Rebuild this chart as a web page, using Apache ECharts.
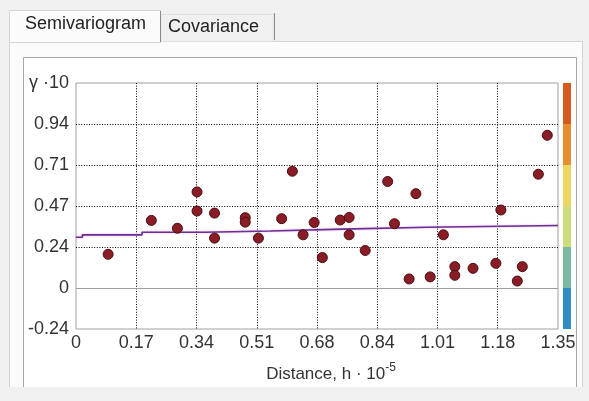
<!DOCTYPE html>
<html>
<head>
<meta charset="utf-8">
<script src="https://cdn.jsdelivr.net/npm/echarts@6/dist/echarts.min.js"></script>
<style>
html,body{margin:0;padding:0;background:#f0f0f0;}
#c{width:589px;height:401px;}
</style>
</head>
<body>
<div id="c"></div>
<script>
// ---- data ----
const xTickLabels = ['0', '0.17', '0.34', '0.51', '0.68', '0.84', '1.01', '1.18', '1.35'];
const yTickLabels = ['-0.24', '0', '0.24', '0.47', '0.71', '0.94', 'γ ·10'];

const pointsX = [0.090, 0.211, 0.284, 0.339, 0.339, 0.388, 0.388, 0.474, 0.474, 0.511,
                 0.576, 0.606, 0.636, 0.667, 0.690, 0.740, 0.765, 0.765, 0.810, 0.873,
                 0.892, 0.933, 0.952, 0.992, 1.029, 1.061, 1.061, 1.112, 1.176, 1.190,
                 1.236, 1.250, 1.295, 1.320];
const pointsY = [0.194, 0.389, 0.344, 0.553, 0.443, 0.431, 0.287, 0.405, 0.379, 0.287,
                 0.399, 0.672, 0.306, 0.377, 0.175, 0.391, 0.406, 0.306, 0.216, 0.613,
                 0.370, 0.052, 0.543, 0.064, 0.306, 0.123, 0.073, 0.113, 0.142, 0.449,
                 0.040, 0.123, 0.655, 0.879];

const modelX = [0, 0.018, 0.185, 0.360, 0.544, 0.746, 0.984, 1.35];
const modelY = [0.292, 0.306, 0.321, 0.328, 0.339, 0.350, 0.360, 0.360];

const colorBarColors = ['#2d8dc4', '#7cb9a3', '#cfdc7c', '#eed760', '#e48e2f', '#d45b1d']; // bottom -> top
const colorBarSegments = [1, 1, 1, 1, 1, 1];

// ---- chart ----
const FONT = 'Liberation Sans, Arial, sans-serif';
const chart = echarts.init(document.getElementById('c'), null, {renderer: 'canvas'});

const points = pointsX.map((x, i) => [x, pointsY[i]]);
const model = modelX.map((x, i) => [x, modelY[i]]);

const barSeries = colorBarSegments.map((v, i) => ({
  type: 'bar',
  xAxisIndex: 1,
  yAxisIndex: 1,
  stack: 'cb',
  barWidth: '100%',
  silent: true,
  itemStyle: {color: colorBarColors[i]},
  data: [v]
}));

const gridDots = {color: '#000', type: [1, 1.6], width: 1};

const option = {
  backgroundColor: '#f0f0f0',
  animation: false,
  graphic: [
    {type: 'rect', z: -20, shape: {x: 9.5, y: 41.5, width: 573, height: 346},
     style: {fill: '#fbfbfb', stroke: '#d4d4d4', lineWidth: 1}},
    {type: 'rect', z: -19, shape: {x: 23.5, y: 57.5, width: 553, height: 340},
     style: {fill: '#ffffff', stroke: '#a8a8a8', lineWidth: 1}},
    {type: 'rect', z: -18, shape: {x: 0, y: 387, width: 589, height: 14},
     style: {fill: '#f0f0f0'}},
    {type: 'rect', z: -17, shape: {x: 9.5, y: 10.5, width: 151, height: 32},
     style: {fill: '#fbfbfb', stroke: '#d4d4d4', lineWidth: 1}},
    {type: 'line', z: -16, shape: {x1: 160.5, y1: 11, x2: 160.5, y2: 42},
     style: {stroke: '#8a8a8a', lineWidth: 1}},
    {type: 'line', z: -16, shape: {x1: 10, y1: 41.5, x2: 160, y2: 41.5},
     style: {stroke: '#fbfbfb', lineWidth: 1}},
    {type: 'rect', z: -17, shape: {x: 161, y: 14.5, width: 113, height: 27},
     style: {fill: '#f0f0f0', stroke: '#e0e0e0', lineWidth: 1}},
    {type: 'line', z: -16, shape: {x1: 274.5, y1: 13, x2: 274.5, y2: 40},
     style: {stroke: '#8a8a8a', lineWidth: 1}},
    {type: 'text', z: -15, left: 25, top: 15,
     style: {text: 'Semivariogram', fontFamily: FONT, fontSize: 18, fill: '#222'}},
    {type: 'text', z: -15, left: 168, top: 18,
     style: {text: 'Covariance', fontFamily: FONT, fontSize: 18, fill: '#222'}}
  ],
  grid: [
    {left: 76, top: 83, width: 482, height: 246, show: true,
     backgroundColor: '#ffffff', borderColor: '#a0a0a0', borderWidth: 1},
    {left: 563, top: 83, width: 8, height: 246, show: false}
  ],
  xAxis: [
    {
      type: 'value', gridIndex: 0, min: 0, max: 1.35, interval: 0.16875,
      axisLine: {show: false, onZero: false},
      axisTick: {show: false},
      splitLine: {show: true, showMinLine: false, showMaxLine: false, lineStyle: gridDots},
      axisLabel: {
        margin: 5, fontFamily: FONT, fontSize: 18, color: '#333',
        formatter: (v, i) => xTickLabels[i]
      },
      name: 'Distance, h · 10{sup|-5}',
      nameLocation: 'middle',
      nameGap: 33,
      nameTextStyle: {
        fontFamily: FONT, fontSize: 17, color: '#333', padding: [0, 0, 0, 28],
        rich: {sup: {fontFamily: FONT, fontSize: 12, color: '#333', padding: [0, 0, 12, 0]}}
      }
    },
    {type: 'category', gridIndex: 1, data: [''], show: false}
  ],
  yAxis: [
    {
      type: 'value', gridIndex: 0, min: -0.236, max: 1.18, interval: 0.236,
      axisLine: {show: false},
      axisTick: {show: false},
      splitLine: {show: true, showMinLine: false, showMaxLine: false, lineStyle: gridDots},
      axisLabel: {
        margin: 7, fontFamily: FONT, fontSize: 18, color: '#333',
        formatter: (v, i) => yTickLabels[i]
      }
    },
    {type: 'value', gridIndex: 1, min: 0, max: 6, show: false}
  ],
  series: [
    {
      type: 'line', xAxisIndex: 0, yAxisIndex: 0, step: 'end',
      data: model, symbol: 'none', silent: true, z: 3,
      lineStyle: {color: '#6b3192', width: 1.6, shadowColor: 'rgba(225,130,225,0.7)', shadowBlur: 2}
    },
    {
      type: 'scatter', xAxisIndex: 0, yAxisIndex: 0, data: points, z: 4,
      symbolSize: 10, silent: true,
      itemStyle: {color: '#8a1c25', borderColor: '#4a0d12', borderWidth: 1, opacity: 1},
      markLine: {
        silent: true, symbol: 'none', label: {show: false}, z: 2,
        lineStyle: {color: '#a0a0a0', type: 'solid', width: 1},
        data: [{yAxis: 0}]
      }
    },
    ...barSeries
  ]
};
chart.setOption(option);
</script>
</body>
</html>
